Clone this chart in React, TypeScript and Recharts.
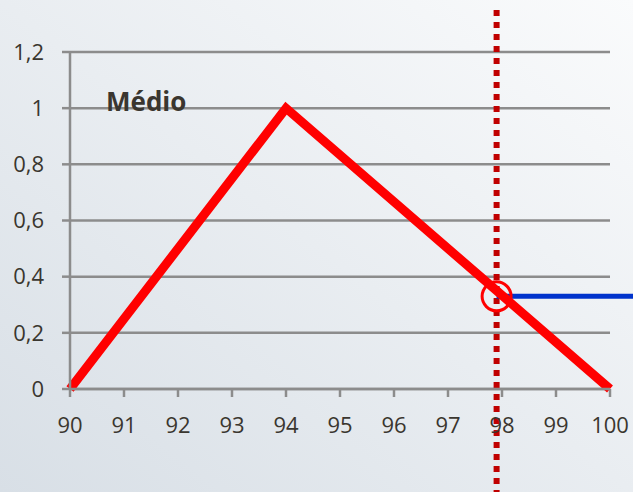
import { LineChart, Line, XAxis, YAxis, CartesianGrid, ReferenceLine, ReferenceDot } from 'recharts'

const xTicks = [90, 91, 92, 93, 94, 95, 96, 97, 98, 99, 100]
const yTicks = [0, 0.2, 0.4, 0.6, 0.8, 1, 1.2]

// triangular membership function "Médio"
const medioX = [90, 94, 100]
const medioY = [0, 1, 0]

// input cut and resulting degree
const cutX = 97.9
const cutY = 0.33
const cutTop = 1.35
const cutBottom = -0.4
const outRightX = 100.6

const medio = medioX.map((x, i) => ({ x, y: medioY[i] }))

const textColor = '#3a362f'
const gridColor = '#8c8c8c'
const font = '"Open Sans", sans-serif'

export default function App() {
  return (
    <div
      style={{
        position: 'relative',
        width: 633,
        height: 492,
        overflow: 'hidden',
        background: 'linear-gradient(to top right, #d8dfe6 0%, #e9edf1 50%, #fafbfc 100%)',
        fontFamily: font,
      }}
    >
      <style>{'body{margin:0}'}</style>
      <LineChart width={633} height={492} data={medio} margin={{ top: 52, right: 23, bottom: 0, left: 0 }}>
        <CartesianGrid horizontal vertical={false} stroke={gridColor} strokeWidth={2.5} />
        <XAxis
          dataKey="x"
          type="number"
          domain={[90, 100]}
          ticks={xTicks}
          interval={0}
          height={103}
          stroke={gridColor}
          strokeWidth={2.5}
          tickSize={8}
          tickMargin={20}
          tick={{ fontSize: 22, fill: textColor, fontFamily: font }}
        />
        <YAxis
          type="number"
          domain={[0, 1.2]}
          ticks={yTicks}
          interval={0}
          width={70}
          stroke={gridColor}
          strokeWidth={2.5}
          tickSize={8}
          tickMargin={18}
          tickFormatter={(v: number) => String(Math.round(v * 10) / 10).replace('.', ',')}
          tick={{ fontSize: 22, fill: textColor, fontFamily: font }}
        />
        <ReferenceLine
          segment={[{ x: cutX, y: cutTop }, { x: cutX, y: cutBottom }]}
          ifOverflow="visible"
          stroke="#c00000"
          strokeWidth={6}
          strokeDasharray="6 6"
        />
        <ReferenceLine
          segment={[{ x: cutX, y: cutY }, { x: outRightX, y: cutY }]}
          ifOverflow="visible"
          stroke="#0033cc"
          strokeWidth={5}
        />
        <ReferenceDot x={cutX} y={cutY} r={14.5} fill="none" stroke="#ff0000" strokeWidth={3} ifOverflow="visible" />
        <Line
          dataKey="y"
          stroke="#ff0000"
          strokeWidth={9}
          strokeLinejoin="miter"
          strokeLinecap="butt"
          dot={false}
          activeDot={false}
          isAnimationActive={false}
        />
      </LineChart>
      <div
        style={{
          position: 'absolute',
          left: 106,
          top: 88,
          fontSize: 26,
          fontWeight: 700,
          color: textColor,
          lineHeight: 1,
        }}
      >
        Médio
      </div>
    </div>
  )
}
